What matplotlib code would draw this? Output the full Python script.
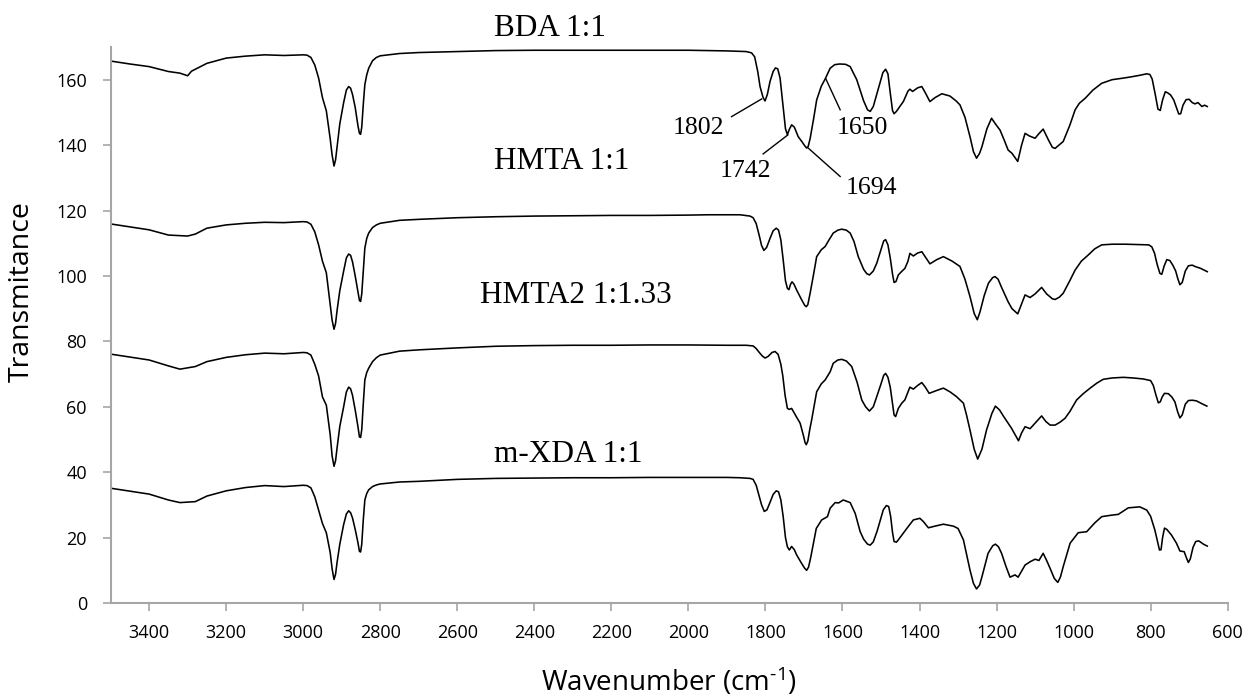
import matplotlib
matplotlib.use("Agg")
import matplotlib.pyplot as plt

# ---------------- data ----------------
wn_bda = [3500, 3450, 3400, 3350, 3320, 3300, 3290, 3270, 3250, 3200, 3150, 3100, 3050, 3000, 2990, 2980,
          2970, 2960, 2950, 2940, 2930, 2925, 2920, 2916, 2912, 2905, 2895, 2888, 2882, 2877, 2872, 2865,
          2858, 2854, 2851, 2848, 2844, 2840, 2835, 2830, 2820, 2810, 2800, 2750, 2700, 2600, 2500, 2400,
          2300, 2200, 2100, 2000, 1950, 1900, 1850, 1836, 1828, 1820, 1814, 1806, 1801, 1795, 1788, 1780,
          1774, 1768, 1762, 1754, 1748, 1743, 1738, 1732, 1725, 1715, 1705, 1698, 1693, 1689, 1684, 1675,
          1667, 1655, 1645, 1632, 1620, 1607, 1592, 1580, 1563, 1545, 1535, 1528, 1520, 1505, 1495, 1488,
          1482, 1476, 1470, 1466, 1460, 1450, 1442, 1430, 1425, 1418, 1405, 1394, 1385, 1373, 1360, 1342,
          1321, 1305, 1295, 1282, 1269, 1260, 1252, 1244, 1238, 1225, 1213, 1200, 1191, 1180, 1170, 1160,
          1145, 1135, 1126, 1115, 1100, 1090, 1079, 1065, 1055, 1048, 1038, 1027, 1010, 996, 985, 970, 950,
          927, 900, 870, 849, 830, 810, 802, 796, 788, 781, 775, 769, 762, 756, 748, 740, 733, 727, 722,
          716, 708, 700, 692, 685, 677, 667, 660, 653]
t_bda = [165.7, 164.8, 164.0, 162.5, 162.0, 161.2, 162.6, 163.8, 165.0, 166.6, 167.2, 167.6, 167.4, 167.6,
         167.5, 166.8, 164.5, 160.5, 154.5, 150.5, 142.0, 137.0, 133.6, 135.5, 139.5, 146.5, 153.0, 156.8,
         157.9, 157.4, 155.5, 151.5, 146.0, 143.6, 143.3, 145.5, 152.5, 158.5, 161.5, 163.5, 165.8, 166.8,
         167.3, 168.0, 168.3, 168.6, 168.9, 169.0, 169.0, 169.0, 169.0, 169.0, 168.9, 168.8, 168.6, 168.2,
         167.0, 162.5, 157.9, 154.5, 153.5, 155.5, 159.5, 162.5, 163.6, 163.3, 160.5, 151.8, 145.0, 143.2,
         144.8, 146.2, 145.5, 142.6, 141.0, 139.8, 139.1, 139.6, 142.0, 148.0, 153.8, 158.0, 160.2, 163.5,
         164.6, 164.8, 164.7, 164.0, 160.0, 153.5, 150.8, 150.3, 151.8, 158.0, 162.2, 163.2, 161.8, 156.0,
         150.5, 149.6, 150.3, 152.0, 153.3, 156.5, 157.1, 156.4, 157.5, 157.9, 156.0, 153.3, 154.5, 155.7,
         155.0, 153.5, 152.3, 148.5, 142.6, 138.0, 136.0, 137.5, 139.5, 145.0, 148.2, 146.0, 144.6, 141.5,
         138.5, 137.5, 135.0, 140.0, 143.6, 142.8, 142.1, 143.5, 144.9, 141.5, 139.3, 139.0, 140.0, 141.1,
         146.0, 150.8, 152.8, 154.3, 156.8, 158.9, 160.0, 160.5, 160.9, 161.3, 161.8, 161.6, 160.2, 155.5,
         151.0, 150.6, 153.8, 156.3, 156.0, 155.3, 153.8, 151.5, 149.5, 149.6, 152.2, 153.9, 154.0, 153.0,
         152.6, 153.0, 151.8, 152.2, 151.8]

wn_hmta = [3500, 3450, 3400, 3350, 3300, 3280, 3250, 3200, 3150, 3100, 3050, 3000, 2990, 2980, 2970, 2960,
           2950, 2940, 2930, 2925, 2920, 2916, 2912, 2905, 2895, 2888, 2882, 2877, 2872, 2865, 2858, 2854,
           2851, 2848, 2844, 2840, 2835, 2830, 2820, 2810, 2800, 2750, 2700, 2600, 2500, 2400, 2300, 2200,
           2100, 2000, 1950, 1900, 1866, 1840, 1832, 1824, 1816, 1810, 1804, 1797, 1788, 1780, 1772, 1766,
           1760, 1754, 1748, 1743, 1739, 1735, 1731, 1726, 1719, 1706, 1698, 1694, 1690, 1684, 1675, 1667,
           1655, 1645, 1635, 1624, 1612, 1602, 1590, 1580, 1570, 1559, 1545, 1537, 1530, 1520, 1511, 1500,
           1493, 1488, 1482, 1476, 1470, 1466, 1461, 1455, 1447, 1438, 1430, 1425, 1416, 1405, 1394, 1385,
           1373, 1355, 1338, 1315, 1295, 1282, 1269, 1258, 1250, 1243, 1232, 1221, 1210, 1204, 1196, 1187,
           1170, 1160, 1145, 1135, 1126, 1113, 1100, 1083, 1070, 1055, 1048, 1037, 1027, 1010, 996, 980, 962,
           945, 927, 900, 866, 830, 805, 797, 790, 783, 776, 771, 765, 758, 750, 742, 735, 729, 724, 718,
           710, 702, 692, 685, 670, 653]
t_hmta = [115.9, 115.0, 114.1, 112.5, 112.2, 112.8, 114.6, 115.6, 116.1, 116.4, 116.3, 116.6, 116.5, 115.8,
          113.5, 109.5, 104.5, 101.0, 91.5, 86.5, 83.7, 85.5, 89.5, 95.5, 101.5, 105.5, 106.7, 106.3, 104.3,
          100.0, 95.3, 92.5, 92.2, 94.5, 101.5, 108.5, 111.5, 113.1, 114.8, 115.6, 116.1, 117.0, 117.3,
          117.8, 118.1, 118.3, 118.4, 118.5, 118.5, 118.6, 118.7, 118.7, 118.7, 118.3, 117.8, 116.0, 112.3,
          109.3, 107.8, 108.7, 111.5, 113.8, 114.6, 114.0, 111.0, 105.0, 98.5, 96.2, 95.8, 97.4, 98.2, 97.5,
          95.7, 92.7, 91.0, 90.6, 91.2, 94.7, 100.5, 105.9, 108.0, 109.0, 111.0, 113.1, 114.0, 114.3, 114.0,
          113.1, 110.5, 105.9, 102.0, 100.7, 100.3, 101.5, 103.9, 108.0, 110.7, 111.1, 109.5, 105.5, 100.5,
          98.0, 98.3, 100.3, 101.3, 102.3, 104.5, 106.9, 106.1, 107.0, 107.4, 105.8, 103.7, 105.0, 105.9,
          104.5, 102.9, 99.0, 93.7, 88.5, 86.6, 89.0, 94.0, 97.8, 99.5, 99.8, 99.0, 96.5, 92.1, 90.0, 88.4,
          91.5, 94.2, 93.4, 94.5, 96.5, 94.5, 93.0, 92.8, 93.5, 94.7, 98.5, 101.8, 104.5, 106.4, 108.3,
          109.5, 109.7, 109.7, 109.6, 109.5, 108.9, 107.0, 103.5, 100.8, 100.5, 103.0, 105.0, 104.7, 103.2,
          101.5, 99.0, 97.3, 98.0, 101.5, 103.1, 103.3, 102.9, 102.3, 101.3]

wn_hmta2 = [3500, 3450, 3400, 3350, 3320, 3280, 3250, 3200, 3150, 3100, 3050, 3000, 2990, 2980, 2970, 2960,
            2950, 2940, 2930, 2925, 2920, 2916, 2912, 2905, 2895, 2888, 2882, 2877, 2872, 2865, 2858, 2854,
            2851, 2848, 2844, 2840, 2835, 2830, 2820, 2810, 2800, 2750, 2700, 2600, 2500, 2400, 2300, 2200,
            2100, 2000, 1900, 1850, 1832, 1824, 1816, 1808, 1801, 1793, 1783, 1775, 1767, 1760, 1755, 1749,
            1743, 1738, 1732, 1720, 1710, 1702, 1697, 1694, 1690, 1685, 1680, 1667, 1655, 1645, 1632, 1624,
            1612, 1602, 1590, 1576, 1562, 1550, 1540, 1530, 1520, 1511, 1500, 1493, 1488, 1482, 1476, 1470,
            1466, 1462, 1455, 1446, 1438, 1425, 1416, 1405, 1394, 1385, 1375, 1355, 1338, 1320, 1304, 1286,
            1278, 1269, 1258, 1249, 1238, 1226, 1212, 1203, 1192, 1182, 1170, 1161, 1143, 1135, 1126, 1113,
            1100, 1083, 1072, 1061, 1048, 1035, 1022, 1010, 992, 975, 957, 940, 923, 900, 871, 845, 819, 800,
            793, 786, 780, 775, 770, 764, 754, 745, 737, 730, 724, 718, 710, 702, 692, 681, 668, 654]
t_hmta2 = [76.1, 75.2, 74.3, 72.5, 71.5, 72.3, 73.8, 75.1, 75.9, 76.4, 76.2, 76.6, 76.5, 75.8, 73.0, 69.4,
           63.0, 60.5, 51.5, 45.0, 41.8, 43.5, 47.5, 54.0, 60.0, 64.5, 66.0, 65.5, 63.5, 59.0, 54.0, 50.8,
           50.6, 53.0, 61.0, 68.2, 70.5, 71.8, 73.8, 75.0, 75.8, 77.0, 77.4, 78.0, 78.5, 78.7, 78.8, 78.8,
           78.9, 78.9, 78.8, 78.8, 78.6, 77.8, 76.6, 75.5, 74.9, 75.4, 76.6, 76.9, 76.0, 73.0, 69.5, 63.5,
           59.5, 59.2, 59.5, 57.0, 55.0, 51.5, 49.0, 48.4, 49.5, 53.0, 56.0, 64.6, 67.0, 68.2, 70.7, 73.3,
           74.3, 74.5, 74.0, 72.3, 67.5, 62.1, 60.0, 58.7, 60.0, 63.1, 67.0, 69.6, 70.2, 69.0, 66.0, 61.0,
           57.5, 57.0, 59.5, 61.1, 62.1, 66.0, 65.4, 66.5, 67.4, 66.0, 64.1, 65.0, 65.7, 64.5, 63.1, 61.1,
           57.5, 52.9, 47.0, 44.0, 47.0, 52.9, 58.0, 60.2, 59.0, 57.1, 55.0, 53.4, 49.6, 52.0, 53.9, 53.3,
           55.0, 57.2, 55.5, 54.4, 54.4, 55.3, 56.5, 58.5, 62.1, 64.0, 65.7, 67.2, 68.4, 68.8, 69.0, 68.8,
           68.5, 68.0, 66.5, 63.5, 61.2, 61.5, 63.0, 64.1, 64.0, 63.0, 61.5, 58.5, 56.6, 57.5, 60.8, 61.9,
           62.0, 61.8, 61.0, 60.2]

wn_mxda = [3500, 3450, 3400, 3350, 3320, 3280, 3250, 3200, 3150, 3100, 3050, 3000, 2990, 2980, 2970, 2960,
           2950, 2940, 2930, 2925, 2920, 2916, 2912, 2905, 2895, 2888, 2882, 2877, 2872, 2865, 2858, 2854,
           2851, 2848, 2844, 2840, 2835, 2830, 2820, 2810, 2800, 2750, 2700, 2600, 2500, 2400, 2300, 2200,
           2100, 2000, 1900, 1866, 1840, 1832, 1824, 1816, 1810, 1803, 1796, 1788, 1780, 1772, 1766, 1760,
           1754, 1748, 1743, 1738, 1732, 1725, 1719, 1706, 1698, 1693, 1688, 1682, 1675, 1668, 1654, 1639,
           1632, 1619, 1610, 1598, 1580, 1567, 1554, 1545, 1535, 1528, 1520, 1510, 1494, 1486, 1480, 1475,
           1470, 1466, 1460, 1455, 1433, 1416, 1399, 1390, 1377, 1360, 1338, 1312, 1300, 1286, 1278, 1269,
           1260, 1252, 1244, 1238, 1222, 1210, 1203, 1195, 1187, 1175, 1165, 1152, 1144, 1126, 1113, 1100,
           1090, 1079, 1070, 1061, 1050, 1041, 1034, 1027, 1009, 988, 966, 945, 927, 905, 884, 858, 828, 810,
           800, 789, 782, 777, 773, 769, 764, 758, 746, 733, 724, 713, 706, 702, 697, 690, 683, 675, 663, 653]
t_mxda = [35.1, 34.2, 33.3, 31.5, 30.7, 31.0, 32.7, 34.3, 35.3, 35.9, 35.6, 36.0, 35.9, 35.2, 32.5, 28.4,
          24.3, 21.5, 15.5, 10.5, 7.2, 8.8, 12.5, 18.0, 24.0, 27.2, 28.2, 27.6, 26.0, 22.5, 18.5, 15.8,
          15.6, 18.0, 25.5, 31.5, 33.5, 34.6, 35.6, 36.1, 36.4, 37.0, 37.2, 37.8, 38.1, 38.2, 38.3, 38.3,
          38.4, 38.4, 38.4, 38.3, 38.1, 37.8, 36.0, 32.5, 30.0, 28.0, 28.5, 30.8, 33.2, 34.3, 34.0, 31.5,
          26.5, 20.0, 17.2, 16.2, 17.3, 16.3, 14.7, 12.1, 10.6, 10.0, 11.0, 14.2, 18.5, 22.8, 25.4, 26.4,
          29.0, 30.7, 30.6, 31.5, 30.7, 27.4, 21.8, 19.5, 18.0, 17.7, 18.7, 22.0, 28.5, 29.8, 29.5, 26.5,
          21.5, 18.8, 18.6, 19.3, 22.8, 25.4, 25.9, 24.9, 23.0, 23.5, 24.1, 23.5, 22.8, 19.3, 15.0, 10.1,
          6.0, 4.3, 5.5, 8.0, 15.2, 17.5, 18.0, 17.2, 15.2, 11.0, 7.9, 8.6, 7.9, 11.6, 12.6, 13.4, 13.0,
          15.2, 13.0, 10.6, 7.5, 6.3, 8.0, 11.1, 18.3, 21.5, 21.8, 24.5, 26.4, 26.8, 27.1, 29.1, 29.4, 28.4,
          26.5, 22.3, 18.8, 16.2, 16.3, 20.0, 22.9, 22.5, 20.8, 18.3, 15.9, 15.7, 13.5, 12.4, 13.5, 17.0,
          18.8, 19.0, 18.0, 17.4]

series_labels = ["BDA 1:1", "HMTA 1:1", "HMTA2 1:1.33", "m-XDA 1:1"]
x_ticks = [3400, 3200, 3000, 2800, 2600, 2400, 2200, 2000, 1800, 1600, 1400, 1200, 1000, 800, 600]
y_ticks = [0, 20, 40, 60, 80, 100, 120, 140, 160]
peak_labels = ["1802", "1742", "1694", "1650"]

# ---------------- figure ----------------
plt.rcParams["mathtext.fontset"] = "custom"
plt.rcParams["mathtext.rm"] = "Open Sans"
plt.rcParams["mathtext.it"] = "Open Sans"
plt.rcParams["mathtext.bf"] = "Open Sans"

fig = plt.figure(figsize=(12.47, 6.96), dpi=100)
ax = fig.add_axes([0.0887, 0.1336, 0.8958, 0.7989])

for wn, t in [(wn_bda, t_bda), (wn_hmta, t_hmta), (wn_hmta2, t_hmta2), (wn_mxda, t_mxda)]:
    ax.plot(wn, t, color="black", lw=1.15, solid_joinstyle="round", antialiased=True)

ax.set_xlim(3500, 600)
ax.set_ylim(0, 170)
ax.set_xticks(x_ticks)
ax.set_yticks(y_ticks)

tick_font = "Open Sans"
for lab in ax.get_xticklabels() + ax.get_yticklabels():
    lab.set_fontfamily(tick_font)
    lab.set_fontsize(13)
ax.tick_params(axis="both", colors="#a6a6a6", labelcolor="black", width=1.2, length=6)
ax.tick_params(axis="x", pad=9)
ax.tick_params(axis="y", pad=11)

for s in ["top", "right"]:
    ax.spines[s].set_visible(False)
for s in ["left", "bottom"]:
    ax.spines[s].set_color("#a6a6a6")
    ax.spines[s].set_linewidth(1.5)

serif = "Liberation Serif"
# series names
ax.text(2505, 173.4, series_labels[0], family=serif, fontsize=22.5, va="baseline", ha="left")
ax.text(2505, 132.6, series_labels[1], family=serif, fontsize=22.5, va="baseline", ha="left")
ax.text(2541, 91.8, series_labels[2], family=serif, fontsize=22.5, va="baseline", ha="left")
ax.text(2505, 43.2, series_labels[3], family=serif, fontsize=22.5, va="baseline", ha="left")

# peak annotations
ax.plot([1810, 1888], [154.1, 148.7], color="black", lw=1.0)
ax.text(1907, 143.3, peak_labels[0], family=serif, fontsize=18.5, va="baseline", ha="right")
ax.plot([1742, 1806], [143.1, 137.3], color="black", lw=1.0)
ax.text(1852, 130.4, peak_labels[1], family=serif, fontsize=18.5, va="baseline", ha="center")
ax.plot([1689, 1606], [139.1, 130.4], color="black", lw=1.0)
ax.text(1591, 125.1, peak_labels[2], family=serif, fontsize=18.5, va="baseline", ha="left")
ax.plot([1643, 1606], [160.2, 150.8], color="black", lw=1.0)
ax.text(1548, 143.4, peak_labels[3], family=serif, fontsize=18.5, va="baseline", ha="center")

fig.text(22 / 1247, 1 - 292 / 696, "Transmitance", family=tick_font, fontsize=20.5,
         rotation=90, ha="center", va="center")
fig.text(669 / 1247, 1 - 691 / 696, r"Wavenumber (cm$^{\text{-1}}$)", family=tick_font,
         fontsize=20, ha="center", va="baseline")

fig.savefig("out.png", dpi=100)
